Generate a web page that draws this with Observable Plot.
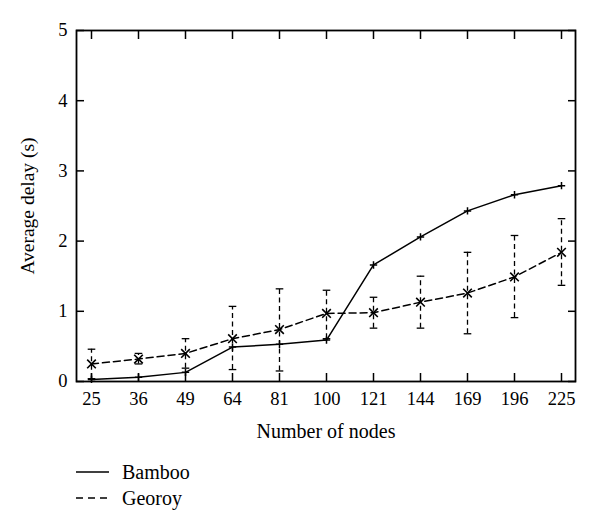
<!DOCTYPE html>
<html>
<head>
<meta charset="utf-8">
<script src="https://cdn.jsdelivr.net/npm/d3@7"></script>
<script src="https://cdn.jsdelivr.net/npm/@observablehq/plot@0.6"></script>
<style>
  html, body { margin: 0; padding: 0; background: #fff; }
  body { width: 600px; height: 529px; overflow: hidden; font-family: "Liberation Serif", "Times New Roman", serif; color: #000; }
  #legend { position: relative; height: 84px; }
  .row { position: absolute; left: 76px; height: 26px; display: flex; align-items: center;
         font-family: "Liberation Serif", "Times New Roman", serif; font-size: 20px; }
  .row svg { margin-right: 13px; }
</style>
</head>
<body>
<div id="chart"></div>
<div id="legend"></div>
<script>
// ---- data ----
const nodes = [25, 36, 49, 64, 81, 100, 121, 144, 169, 196, 225];
const bamboo = [0.03, 0.06, 0.13, 0.49, 0.53, 0.59, 1.66, 2.06, 2.43, 2.66, 2.79];
const georoy = [0.25, 0.32, 0.40, 0.61, 0.74, 0.97, 0.98, 1.13, 1.26, 1.49, 1.84];
const georoyLow = [0.04, 0.25, 0.19, 0.17, 0.15, 0.61, 0.76, 0.76, 0.68, 0.91, 1.37];
const georoyHigh = [0.46, 0.40, 0.61, 1.07, 1.32, 1.30, 1.20, 1.50, 1.84, 2.08, 2.32];
const yTicks = [0, 1, 2, 3, 4, 5];
const seriesNames = ["Bamboo", "Georoy"];
const xLabel = "Number of nodes";
const yLabel = "Average delay (s)";

const bambooData = nodes.map((n, i) => ({n, v: bamboo[i]}));
const georoyData = nodes.map((n, i) => ({n, v: georoy[i], lo: georoyLow[i], hi: georoyHigh[i]}));

// horizontal cap symbol for error bars
const capSymbol = {
  draw(context, size) {
    const w = Math.sqrt(size / Math.PI);
    context.moveTo(-w, 0);
    context.lineTo(w, 0);
  }
};

const lineDash = "7,4";
const barDash = "5,3.5";
const chart = Plot.plot({
  width: 600,
  height: 445,
  marginLeft: 76,
  marginRight: 25,
  marginTop: 30,
  marginBottom: 64,
  style: {fontFamily: "'Liberation Serif', 'Times New Roman', serif", fontSize: "18.5px", color: "#000", background: "#fff"},
  x: {type: "point", domain: nodes, padding: 0.2},
  y: {domain: [0, 5]},
  marks: [
    Plot.axisX({anchor: "bottom", ticks: nodes, tickSize: -8, tickPadding: 18, strokeWidth: 1.5,
      label: null, fontSize: 18.5}),
    Plot.axisX({anchor: "bottom", ticks: [], label: xLabel, labelAnchor: "center", labelArrow: "none",
      labelOffset: 56, fontSize: 20}),
    Plot.axisX({anchor: "top", ticks: nodes, tickSize: -8, tickFormat: () => "", label: null, strokeWidth: 1.5}),
    Plot.axisY({anchor: "left", ticks: yTicks, tickFormat: "d", tickSize: -8, tickPadding: 17, strokeWidth: 1.5,
      label: null, fontSize: 18.5}),
    Plot.axisY({anchor: "left", ticks: [], label: yLabel, labelAnchor: "center", labelArrow: "none",
      labelOffset: 56, fontSize: 19.5}),
    Plot.axisY({anchor: "right", ticks: yTicks, tickSize: -8, tickFormat: () => "", label: null, strokeWidth: 1.5}),
    Plot.frame({stroke: "#000", strokeWidth: 1.8}),
    // Georoy error bars
    Plot.ruleX(georoyData, {x: "n", y1: "lo", y2: "hi", stroke: "#000", strokeWidth: 1.3, strokeDasharray: barDash}),
    Plot.dot(georoyData, {x: "n", y: "hi", symbol: capSymbol, r: 3.8, stroke: "#000", strokeWidth: 1.3}),
    Plot.dot(georoyData, {x: "n", y: "lo", symbol: capSymbol, r: 3.8, stroke: "#000", strokeWidth: 1.3}),
    // lines
    Plot.line(georoyData, {x: "n", y: "v", stroke: "#000", strokeWidth: 1.5, strokeDasharray: lineDash}),
    Plot.line(bambooData, {x: "n", y: "v", stroke: "#000", strokeWidth: 1.5}),
    Plot.dot(georoyData, {x: "n", y: "v", symbol: "times", r: 4, stroke: "#000", strokeWidth: 1.6}),
    Plot.dot(bambooData, {x: "n", y: "v", symbol: "plus", r: 2.5, stroke: "#000", strokeWidth: 1.5})
  ]
});
document.getElementById("chart").appendChild(chart);

// legend
const legend = document.getElementById("legend");
const dashes = ["", "7,5"];
seriesNames.forEach((name, i) => {
  const row = document.createElement("div");
  row.className = "row";
  row.style.top = (14 + i * 26) + "px";
  row.innerHTML = `<svg width="33" height="10"><line x1="0" x2="33" y1="5" y2="5" stroke="#000" stroke-width="1.5" ${dashes[i] ? `stroke-dasharray="${dashes[i]}"` : ""}/></svg><span>${name}</span>`;
  legend.appendChild(row);
});
</script>
</body>
</html>
